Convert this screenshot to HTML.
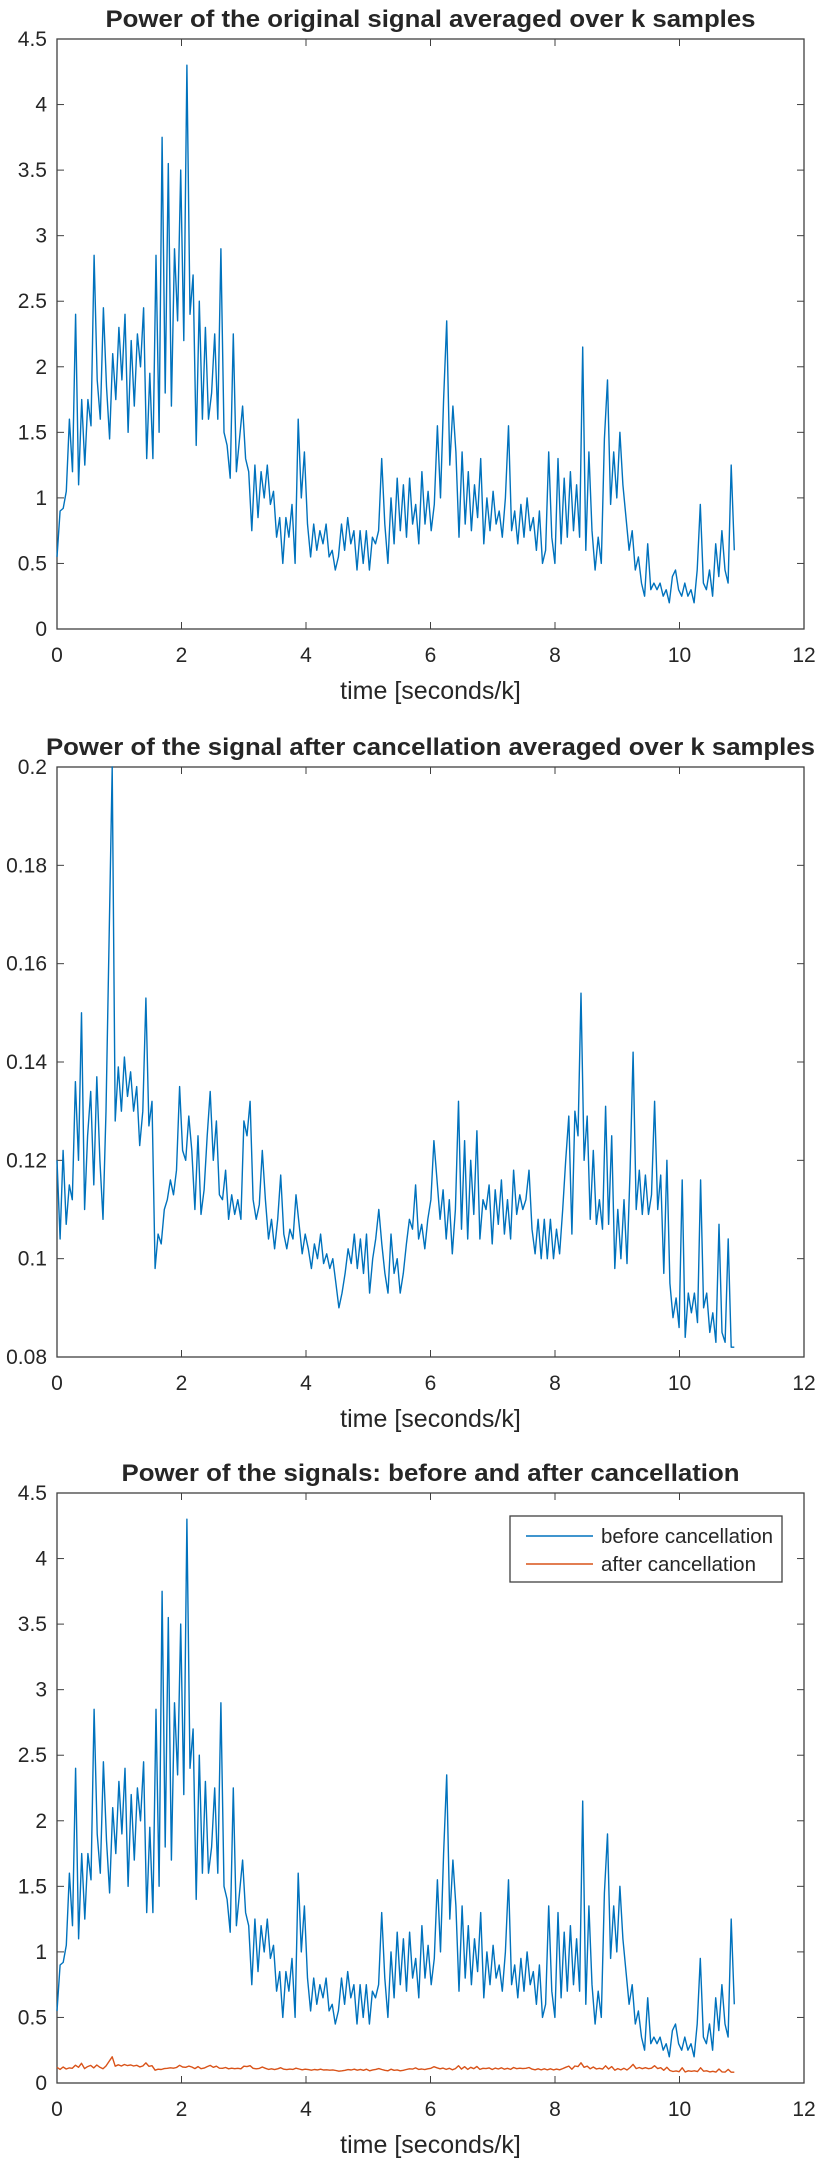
<!DOCTYPE html>
<html><head><meta charset="utf-8"><style>
html,body{margin:0;padding:0;background:#fff}
svg{display:block}
text{font-family:"Liberation Sans",Arial,sans-serif;fill:#262626}
</style></head><body>
<svg id="fig" width="827" height="2163" viewBox="0 0 827 2163" xmlns="http://www.w3.org/2000/svg"></svg>
<script>
const beforeVals=[0.55,0.9,0.92,1.05,1.6,1.2,2.4,1.1,1.75,1.25,1.75,1.55,2.85,1.9,1.6,2.45,1.85,1.45,2.1,1.75,2.3,1.9,2.4,1.5,2.2,1.7,2.25,2.0,2.45,1.3,1.95,1.3,2.85,1.5,3.75,1.8,3.55,1.7,2.9,2.35,3.5,2.2,4.3,2.4,2.7,1.4,2.5,1.6,2.3,1.6,1.8,2.25,1.6,2.9,1.5,1.4,1.15,2.25,1.2,1.45,1.7,1.3,1.2,0.75,1.25,0.85,1.2,1.0,1.25,0.95,1.05,0.7,0.85,0.5,0.85,0.7,0.95,0.5,1.6,1.0,1.35,0.8,0.55,0.8,0.6,0.75,0.65,0.8,0.55,0.6,0.45,0.55,0.8,0.6,0.85,0.65,0.75,0.45,0.75,0.5,0.75,0.45,0.7,0.65,0.75,1.3,0.8,0.5,1.0,0.65,1.15,0.75,1.1,0.7,1.15,0.8,0.95,0.65,1.2,0.8,1.05,0.75,0.95,1.55,1.0,1.75,2.35,1.25,1.7,1.35,0.7,1.35,0.8,1.2,0.75,1.1,0.85,1.3,0.65,1.0,0.75,1.05,0.8,0.9,0.7,1.0,1.55,0.75,0.9,0.65,0.95,0.7,1.0,0.75,0.85,0.6,0.9,0.5,0.6,1.35,0.7,0.5,1.3,0.65,1.15,0.7,1.2,0.75,1.1,0.7,2.15,0.6,1.35,0.75,0.45,0.7,0.5,1.45,1.9,0.95,1.35,1.0,1.5,1.1,0.85,0.6,0.75,0.45,0.55,0.35,0.25,0.65,0.3,0.35,0.3,0.35,0.25,0.3,0.2,0.4,0.45,0.3,0.25,0.35,0.25,0.3,0.2,0.45,0.95,0.35,0.3,0.45,0.25,0.65,0.4,0.75,0.45,0.35,1.25,0.6];
const afterVals=[0.12,0.104,0.122,0.107,0.115,0.112,0.136,0.12,0.15,0.11,0.125,0.134,0.115,0.137,0.12,0.108,0.13,0.165,0.2,0.128,0.139,0.13,0.141,0.133,0.138,0.13,0.135,0.123,0.13,0.153,0.127,0.132,0.098,0.105,0.103,0.11,0.112,0.116,0.113,0.118,0.135,0.122,0.12,0.129,0.122,0.11,0.125,0.109,0.114,0.125,0.134,0.12,0.128,0.113,0.112,0.118,0.108,0.113,0.109,0.112,0.108,0.128,0.125,0.132,0.112,0.108,0.111,0.122,0.112,0.104,0.108,0.102,0.108,0.117,0.105,0.102,0.106,0.104,0.113,0.107,0.101,0.105,0.102,0.098,0.103,0.1,0.105,0.099,0.101,0.098,0.1,0.095,0.09,0.093,0.097,0.102,0.099,0.105,0.098,0.104,0.097,0.105,0.093,0.1,0.104,0.11,0.103,0.097,0.093,0.105,0.097,0.1,0.093,0.097,0.103,0.108,0.106,0.115,0.104,0.107,0.102,0.108,0.112,0.124,0.116,0.108,0.114,0.104,0.112,0.101,0.11,0.132,0.106,0.124,0.104,0.12,0.109,0.126,0.104,0.112,0.11,0.115,0.103,0.114,0.107,0.116,0.105,0.112,0.104,0.118,0.109,0.113,0.11,0.112,0.118,0.106,0.101,0.108,0.1,0.108,0.1,0.108,0.1,0.106,0.101,0.11,0.12,0.129,0.105,0.13,0.125,0.154,0.12,0.129,0.108,0.122,0.107,0.112,0.106,0.131,0.107,0.125,0.098,0.11,0.1,0.112,0.099,0.118,0.142,0.11,0.118,0.109,0.117,0.109,0.113,0.132,0.11,0.117,0.097,0.12,0.095,0.088,0.092,0.086,0.116,0.084,0.093,0.089,0.093,0.087,0.116,0.09,0.093,0.085,0.089,0.083,0.107,0.085,0.083,0.104,0.082,0.082];
const tEnd=10.88;
const xTicks=[0,2,4,6,8,10,12];
const yTicksA=[0,0.5,1,1.5,2,2.5,3,3.5,4,4.5];
const yTicksB=[0.08,0.1,0.12,0.14,0.16,0.18,0.2];
const yLabelsB=["0.08","0.1","0.12","0.14","0.16","0.18","0.2"];
const titles=["Power of the original signal averaged over k samples","Power of the signal after cancellation averaged over k samples","Power of the signals: before and after cancellation"];
const legendLabels=["before cancellation","after cancellation"];

const NS="http://www.w3.org/2000/svg";
const svg=document.getElementById('fig');
function mk(tag,attrs,parent){const e=document.createElementNS(NS,tag);for(const k in attrs)e.setAttribute(k,attrs[k]);(parent||svg).appendChild(e);return e;}
const L=57,R=804,H=590;
function drawAxes(top,ymin,ymax,yt,ylabels,title,idx,titleW){
  const g=mk('g',{});
  
  
  const xs=v=>L+(v-0)/(12-0)*(R-L);
  const ys=v=>top+H-(v-ymin)/(ymax-ymin)*H;
  const bot=top+H;
  const box=mk('rect',{x:L,y:top,width:R-L,height:H,fill:'#fff',stroke:'#404040','stroke-width':1.3},g);
  
  
  xTicks.forEach(v=>{
    const x=xs(v);
    mk('line',{x1:x,y1:bot,x2:x,y2:bot-7,stroke:'#404040'},g);
    mk('line',{x1:x,y1:top,x2:x,y2:top+7,stroke:'#404040'},g);
    const t=mk('text',{x:x,y:bot+33,'text-anchor':'middle','font-size':21},g);
    t.textContent=v;
    
    
  });
  yt.forEach((v,i)=>{
    const y=ys(v);
    mk('line',{x1:L,y1:y,x2:L+7,y2:y,stroke:'#404040'},g);
    mk('line',{x1:R,y1:y,x2:R-7,y2:y,stroke:'#404040'},g);
    const t=mk('text',{x:L-10,y:y+7,'text-anchor':'end','font-size':21},g);
    t.textContent=ylabels?ylabels[i]:v;
    
    
  });
  const tt=mk('text',{x:(L+R)/2,y:top-12,'text-anchor':'middle','font-size':24,'font-weight':'bold',textLength:titleW,lengthAdjust:'spacingAndGlyphs'},g);
  tt.textContent=title;
  
  
  const xl=mk('text',{x:(L+R)/2,y:bot+70,'text-anchor':'middle','font-size':25},g);
  xl.textContent='time [seconds/k]';
  
  
  return {xs,ys,g};
}
function drawSeries(ax,vals,color,name){
  const n=vals.length;
  const pts=vals.map((v,i)=>ax.xs(i*tEnd/(n-1)).toFixed(1)+','+ax.ys(v).toFixed(1)).join(' ');
  const p=mk('polyline',{points:pts,fill:'none',stroke:color,'stroke-width':1.4,'stroke-linejoin':'round'},ax.g);
  
  
}
const tops=[39,767,1493];
const a1=drawAxes(tops[0],0,4.5,yTicksA,null,titles[0],0,650);
drawSeries(a1,beforeVals,'#0072BD','before-line');
const a2=drawAxes(tops[1],0.08,0.2,yTicksB,yLabelsB,titles[1],1,769);
drawSeries(a2,afterVals,'#0072BD','after-line');
const a3=drawAxes(tops[2],0,4.5,yTicksA,null,titles[2],2,618);
drawSeries(a3,beforeVals,'#0072BD','before-line');
drawSeries(a3,afterVals,'#D95319','after-line');
// legend
const lg=mk('g',{},a3.g);


mk('rect',{x:510,y:1516,width:272,height:66,fill:'#fff',stroke:'#404040','stroke-width':1.3},lg);
const colors=['#0072BD','#D95319'];
legendLabels.forEach((lab,i)=>{
  const y=1536+i*28;
  const e=mk('g',{},lg);
  
  
  mk('line',{x1:526,y1:y,x2:593,y2:y,stroke:colors[i],'stroke-width':1.4},e);
  const t=mk('text',{x:601,y:y+7,'font-size':20.5},e);
  t.textContent=lab;
});
</script>
</body></html>
